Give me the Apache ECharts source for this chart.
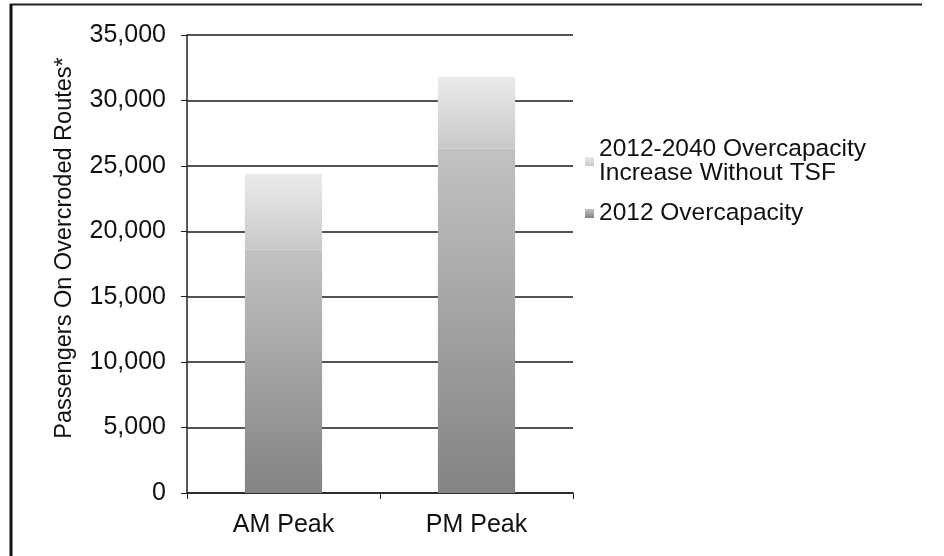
<!DOCTYPE html>
<html><head><meta charset="utf-8">
<script src="https://cdn.jsdelivr.net/npm/echarts@6/dist/echarts.min.js"></script>
<style>html,body{margin:0;padding:0;background:#fff}#c{width:944px;height:556px}</style>
</head><body><div id="c"></div>
<script>
const categories = ['AM Peak', 'PM Peak'];
const overcapacity2012 = [18600, 26300];
const increase2012to2040 = [5800, 5500];
const seriesNames = ['2012-2040 Overcapacity\nIncrease Without TSF', '2012 Overcapacity'];
const yTicks = { min: 0, max: 35000, interval: 5000 };

const chart = echarts.init(document.getElementById('c'), null, { renderer: 'canvas' });
const font = '"Liberation Sans", Arial, sans-serif';
chart.setOption({
  backgroundColor: '#fff',
  animation: false,
  grid: { left: 187, right: 371, top: 35, bottom: 63 },
  legend: {
    orient: 'vertical', left: 580, top: 132,
    itemWidth: 9, itemHeight: 9, itemGap: 15,
    data: [seriesNames[0], seriesNames[1]],
    textStyle: { fontFamily: font, fontSize: 24.5, color: '#111', lineHeight: 24 },
    icon: 'rect'
  },
  xAxis: {
    type: 'category', data: categories,
    axisLine: { lineStyle: { color: '#222', width: 1.5 } },
    axisTick: { show: true, length: 6, lineStyle: { color: '#222' } },
    axisLabel: { fontFamily: font, fontSize: 25, color: '#111', margin: 20 }
  },
  yAxis: {
    type: 'value', min: yTicks.min, max: yTicks.max, interval: yTicks.interval,
    name: 'Passengers On Overcroded Routes*', nameLocation: 'middle', nameGap: 110,
    nameTextStyle: { fontFamily: font, fontSize: 23.5, color: '#111', padding: [0, 0, 0, 32] },
    axisLine: { show: true, lineStyle: { color: '#222', width: 1.5 } },
    axisTick: { show: true, length: 6, lineStyle: { color: '#222' } },
    axisLabel: { fontFamily: font, fontSize: 25, color: '#111', margin: 21,
      formatter: v => v.toLocaleString('en-US') },
    splitLine: { lineStyle: { color: '#1a1a1a', width: 1.5 } }
  },
  series: [
    {
      name: seriesNames[1], type: 'bar', stack: 'a', data: overcapacity2012,
      barCategoryGap: '60%',
      itemStyle: { color: new echarts.graphic.LinearGradient(0, 1, 0, 0, [
        { offset: 0, color: '#838383' }, { offset: 1, color: '#c2c2c2' }]) }
    },
    {
      name: seriesNames[0], type: 'bar', stack: 'a', data: increase2012to2040,
      barCategoryGap: '60%',
      itemStyle: { color: new echarts.graphic.LinearGradient(0, 1, 0, 0, [
        { offset: 0, color: '#c8c8c8' }, { offset: 1, color: '#ebebeb' }]) }
    }
  ],
  graphic: [
    { type: 'line', shape: { x1: 10, y1: 4.5, x2: 922, y2: 4.5 }, style: { stroke: '#222', lineWidth: 2 } },
    { type: 'line', shape: { x1: 11, y1: 4, x2: 11, y2: 556 }, style: { stroke: '#111', lineWidth: 3 } }
  ]
});
</script></body></html>
